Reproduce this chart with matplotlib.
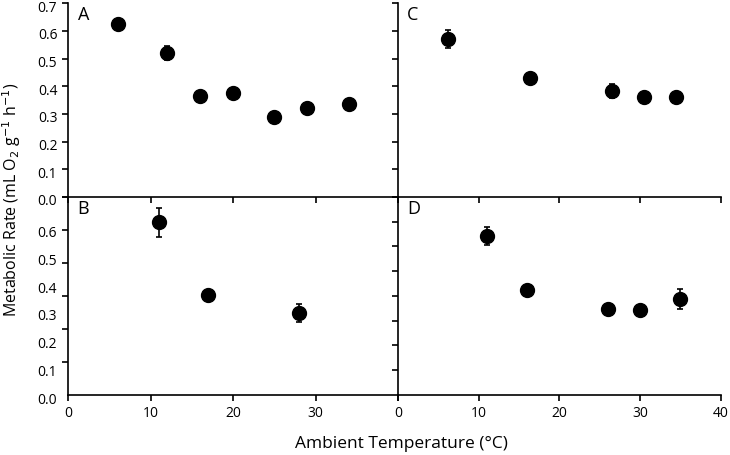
import matplotlib.pyplot as plt
import matplotlib.transforms as mtransforms
import numpy as np

plt.rcParams['font.family'] = ['Open Sans', 'DejaVu Sans']

# panel A
a_temp = [6, 12, 16, 20, 25, 29, 34]
a_rate = [0.624, 0.521, 0.364, 0.376, 0.287, 0.322, 0.335]
a_err = [0.01, 0.025, 0.01, 0.01, 0.01, 0.01, 0.01]

# panel C
c_temp = [6.2, 16.3, 26.5, 30.5, 34.5]
c_rate = [0.571, 0.431, 0.384, 0.362, 0.362]
c_err = [0.033, 0.01, 0.025, 0.01, 0.01]

# panel B
b_temp = [11, 17, 28]
b_rate = [0.623, 0.360, 0.297]
b_err = [0.053, 0.01, 0.032]

# panel D
d_temp = [11, 16, 26, 30, 35]
d_rate = [0.574, 0.379, 0.310, 0.307, 0.347]
d_err = [0.032, 0.01, 0.01, 0.01, 0.036]

x_ticks = [0, 10, 20, 30, 40]
top_yticks = [0.0, 0.1, 0.2, 0.3, 0.4, 0.5, 0.6, 0.7]
bot_yticks = [0.0, 0.1, 0.2, 0.3, 0.4, 0.5, 0.6]

fig = plt.figure(figsize=(7.3, 4.55), dpi=100)

W, H = 730, 455
def box(x0, x1, y0, y1):
    return [x0 / W, 1 - y1 / H, (x1 - x0) / W, (y1 - y0) / H]

axA = fig.add_axes(box(68.4, 398, 3.3, 196.8))
axC = fig.add_axes(box(398, 720.7, 3.3, 196.8))
axB = fig.add_axes(box(68.4, 398, 196.8, 395))
axD = fig.add_axes(box(398, 720.7, 196.8, 395))

panels = [(axA, a_temp, a_rate, a_err, 'A'),
          (axC, c_temp, c_rate, c_err, 'C'),
          (axB, b_temp, b_rate, b_err, 'B'),
          (axD, d_temp, d_rate, d_err, 'D')]

for ax, t, r, e, letter in panels:
    ax.patch.set_alpha(0)
    ax.errorbar(t, r, yerr=e, fmt='o', color='black', ms=10, capsize=2.5,
                elinewidth=1.2, capthick=1.2)
    ax.spines[['top', 'right']].set_visible(False)
    ax.spines[['left', 'bottom']].set_linewidth(1.2)
    ax.set_xlim(0, 40)
    ax.set_xticks(x_ticks)
    ax.tick_params(direction='out', length=4, width=1.2, labelsize=10, pad=4)
    ax.tick_params(which='minor', direction='out', length=4, width=1.2)
    ax.text(0.028, 0.985, letter, transform=ax.transAxes, fontsize=13,
            ha='left', va='top')

# top row
for ax in (axA, axC):
    ax.set_ylim(0, 0.7)
    ax.set_yticks(top_yticks)
    ax.set_xticklabels([])
axA.set_yticklabels(['%.1f' % v for v in top_yticks])
axC.set_yticklabels([])

# bottom row: labels and tick marks are spaced differently
for ax, n in ((axB, 7), (axD, 9)):
    ax.set_ylim(0, 0.715)
    ax.set_yticks(bot_yticks)
    ax.set_yticks(np.linspace(0, 0.715, n), minor=True)
    ax.tick_params(axis='y', which='major', length=0, pad=8.3)
axB.set_yticklabels(['%.1f' % v for v in bot_yticks])
axD.set_yticklabels([])
axB.set_xticklabels(['0', '10', '20', '30', ''])
axD.set_xticklabels(['0', '10', '20', '30', '40'])

# y labels sit a little below their ticks in the original
shift = mtransforms.ScaledTranslation(0, -0.03, fig.dpi_scale_trans)
for ax in (axA, axB):
    for lab in ax.get_yticklabels():
        lab.set_transform(lab.get_transform() + shift)

fig.text(0.55, 0.025, 'Ambient Temperature (°C)', ha='center', va='center',
         fontsize=12.5)
fig.text(0.016, 0.56, 'Metabolic Rate (mL O$_2$ g$^{-1}$ h$^{-1}$)',
         rotation=90, ha='center', va='center', fontsize=11.5)

fig.savefig('out.png', dpi=100)
